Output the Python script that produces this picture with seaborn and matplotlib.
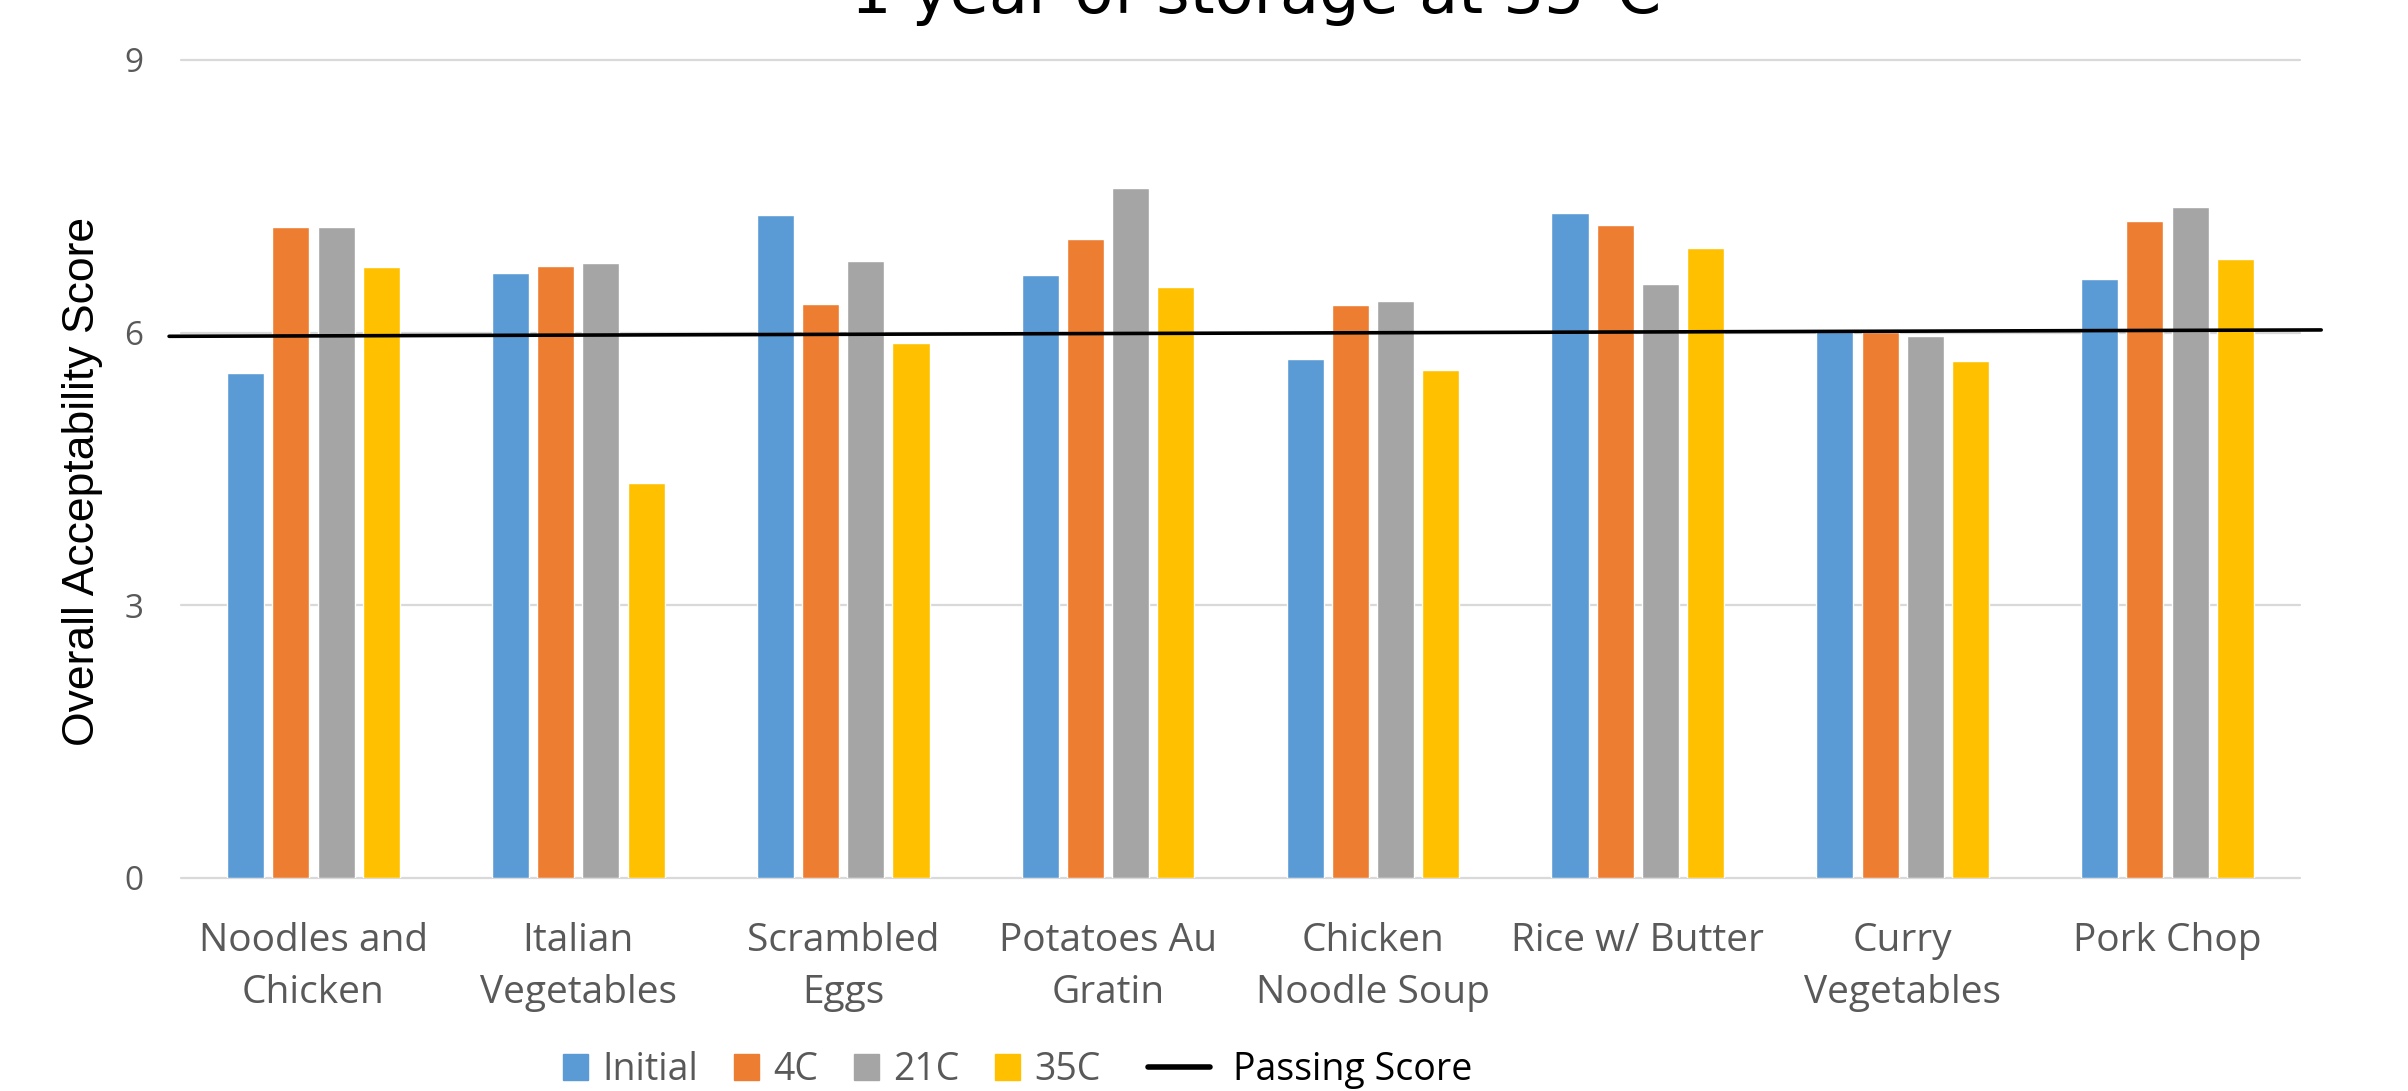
import matplotlib.pyplot as plt
import pandas as pd
import seaborn as sns
from matplotlib.patches import Patch
from matplotlib.lines import Line2D

# data
foods = [
    "Noodles and Chicken",
    "Italian Vegetables",
    "Scrambled Eggs",
    "Potatoes Au Gratin",
    "Chicken Noodle Soup",
    "Rice w/ Butter",
    "Curry Vegetables",
    "Pork Chop",
]
tick_labels = [
    "Noodles and\nChicken",
    "Italian\nVegetables",
    "Scrambled\nEggs",
    "Potatoes Au\nGratin",
    "Chicken\nNoodle Soup",
    "Rice w/ Butter",
    "Curry\nVegetables",
    "Pork Chop",
]
conditions = ["Initial", "4C", "21C", "35C"]
initial = [5.56, 6.66, 7.30, 6.63, 5.71, 7.32, 6.02, 6.59]
temp_4c = [7.16, 6.73, 6.31, 7.03, 6.30, 7.19, 6.01, 7.23]
temp_21c = [7.16, 6.77, 6.79, 7.59, 6.35, 6.54, 5.96, 7.38]
temp_35c = [6.72, 4.35, 5.89, 6.50, 5.59, 6.93, 5.69, 6.81]
passing_score = [5.96, 6.03]  # hand-drawn line, slightly tilted
y_ticks = [0, 3, 6, 9]
title = "1 year of storage at 35°C"

colors = ["#5B9BD5", "#ED7D31", "#A5A5A5", "#FFC000"]
text_gray = "#595959"

rows = []
for cond, vals in zip(conditions, [initial, temp_4c, temp_21c, temp_35c]):
    for food, v in zip(foods, vals):
        rows.append({"Food": food, "Condition": cond, "Score": v})
df = pd.DataFrame(rows)

sns.set_theme(style="white")
plt.rcParams["font.family"] = ["Open Sans", "DejaVu Sans"]

W, H = 2408, 1091
fig = plt.figure(figsize=(W / 100, H / 100), dpi=100)
ax = fig.add_axes([181 / W, 1 - 878 / H, 2119 / W, 818 / H])

sns.barplot(
    data=df,
    x="Food",
    y="Score",
    hue="Condition",
    palette=colors,
    saturation=1,
    width=0.683,
    gap=0.18,
    errorbar=None,
    legend=False,
    ax=ax,
)
ax.set_xlim(-0.5, len(foods) - 0.5)

# passing score line runs a little past both ends of the plot area
x0, x1 = ax.get_xlim()
ax.plot([x0 - 0.045, x1 + 0.08], passing_score, color="black", lw=2.6,
        clip_on=False, zorder=5, scalex=False, scaley=False)
ax.set_xlim(x0, x1)

ax.set_ylim(0, 9)
ax.set_yticks(y_ticks)
ax.set_xticks(range(len(foods)))
ax.set_xticklabels(tick_labels, linespacing=1.5)
ax.yaxis.grid(True, color="#D9D9D9", lw=1.6)
ax.set_axisbelow(True)
for s in ax.spines.values():
    s.set_visible(False)
for gl in ax.yaxis.get_gridlines():
    gl.set_clip_on(False)

ax.tick_params(axis="x", length=0, pad=31.5, labelsize=28, labelcolor=text_gray)
ax.tick_params(axis="y", length=0, pad=27, labelsize=24, labelcolor=text_gray)

ax.set_xlabel("")
ax.set_ylabel("Overall Acceptability Score", fontsize=32,
              family="Liberation Sans", color="black")
ax.yaxis.set_label_coords(-0.0368, 0.485)

# title sits mostly above the canvas, only its bottom shows
fig.text(1256 / W, 1 - 13 / H, title, ha="center", va="baseline",
         fontsize=46, family="DejaVu Sans", color="black")

fs_leg = 27
fig.legend(
    handles=[Patch(color=c) for c in colors],
    labels=conditions,
    loc="center left",
    bbox_to_anchor=(563 / W, 1 - 1070 / H),
    ncol=4,
    frameon=False,
    fontsize=fs_leg,
    handlelength=0.67,
    handleheight=0.67,
    handletextpad=0.37,
    columnspacing=0.96,
    borderpad=0,
    borderaxespad=0,
    labelcolor=text_gray,
)
fig.legend(
    handles=[Line2D([], [], color="black", lw=4)],
    labels=["Passing Score"],
    loc="center left",
    bbox_to_anchor=(1148 / W, 1 - 1070 / H),
    frameon=False,
    fontsize=fs_leg,
    handlelength=1.65,
    handletextpad=0.62,
    borderpad=0,
    borderaxespad=0,
    labelcolor="black",
)

fig.savefig("out.png", dpi=100)
